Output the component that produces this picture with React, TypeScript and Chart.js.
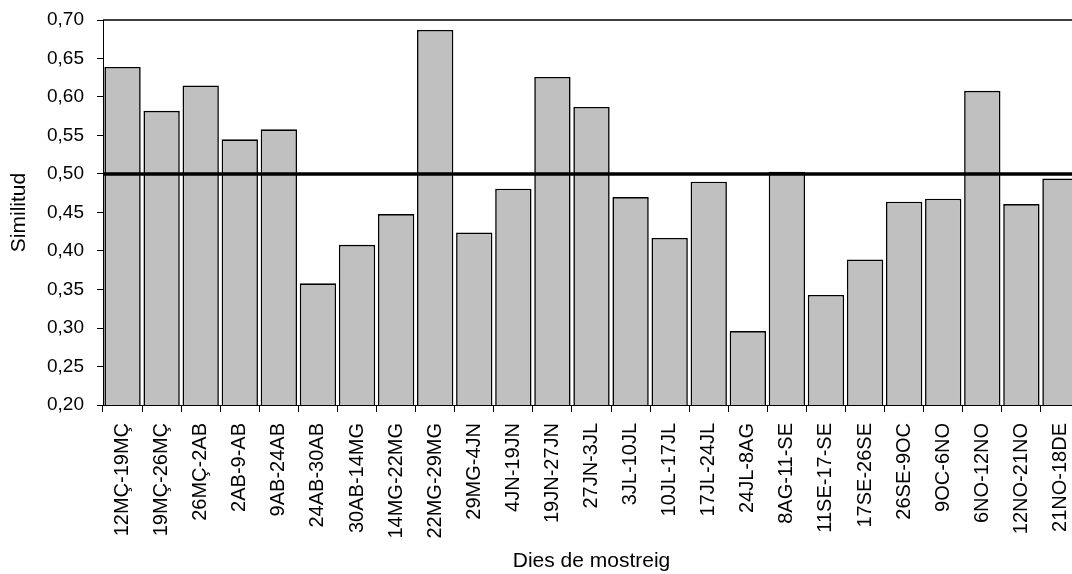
import React, { useEffect, useRef } from "react";
import { Chart, registerables } from "chart.js";

Chart.register(...registerables);

const categories: string[] = [
  "12MÇ-19MÇ", "19MÇ-26MÇ", "26MÇ-2AB", "2AB-9-AB", "9AB-24AB", "24AB-30AB",
  "30AB-14MG", "14MG-22MG", "22MG-29MG", "29MG-4JN", "4JN-19JN", "19JN-27JN",
  "27JN-3JL", "3JL-10JL", "10JL-17JL", "17JL-24JL", "24JL-8AG", "8AG-11-SE",
  "11SE-17-SE", "17SE-26SE", "26SE-9OC", "9OC-6NO", "6NO-12NO", "12NO-21NO",
  "21NO-18DE",
];

const similitud: number[] = [
  0.639, 0.582, 0.615, 0.545, 0.558, 0.358, 0.408, 0.448, 0.687, 0.424,
  0.481, 0.626, 0.587, 0.470, 0.417, 0.490, 0.296, 0.503, 0.343, 0.389,
  0.464, 0.468, 0.608, 0.461, 0.494,
];

const yMin = 0.2;
const yMax = 0.7;
const yStep = 0.05;
const thresholdValue = 0.5;

const yTitle = "Similitud";
const xTitle = "Dies de mostreig";

const FONT = "'Liberation Sans', Arial, sans-serif";

export default function App() {
  const canvasRef = useRef<HTMLCanvasElement | null>(null);

  useEffect(() => {
    const canvas = canvasRef.current;
    if (!canvas) return;

    const linesPlugin = {
      id: "refLines",
      afterDatasetsDraw(chart: any) {
        const { ctx, chartArea, scales } = chart;
        const y = scales.y;
        ctx.save();
        ctx.strokeStyle = "#000";
        const yTop = y.getPixelForValue(yMax);
        ctx.lineWidth = 1.5;
        ctx.beginPath();
        ctx.moveTo(chartArea.left, yTop);
        ctx.lineTo(chartArea.right, yTop);
        ctx.stroke();
        const yT = y.getPixelForValue(thresholdValue);
        ctx.lineWidth = 3.5;
        ctx.beginPath();
        ctx.moveTo(chartArea.left, yT);
        ctx.lineTo(chartArea.right, yT);
        ctx.stroke();
        ctx.restore();
      },
    };

    const chart = new Chart(canvas, {
      type: "bar",
      data: {
        labels: categories,
        datasets: [
          {
            data: similitud,
            backgroundColor: "#c0c0c0",
            borderColor: "#000",
            borderWidth: 1.6,
            barPercentage: 0.93,
            categoryPercentage: 1,
          },
        ],
      },
      options: {
        responsive: false,
        animation: false,
        devicePixelRatio: 1,
        layout: { padding: { top: 20, right: 2, bottom: 0, left: 0 } },
        plugins: {
          legend: { display: false },
          tooltip: { enabled: false },
        },
        scales: {
          x: {
            grid: {
              offset: true,
              drawOnChartArea: false,
              drawTicks: true,
              tickLength: 7,
              color: "#000",
              lineWidth: 1,
            },
            border: { display: true, color: "#000", width: 1 },
            ticks: {
              autoSkip: false,
              minRotation: 90,
              maxRotation: 90,
              padding: 11,
              color: "#000",
              font: { family: FONT, size: 20 },
            },
            title: {
              display: true,
              text: xTitle,
              color: "#000",
              font: { family: FONT, size: 21 },
              padding: { top: 0, bottom: 0 },
            },
            afterFit(scale: any) {
              scale.height = 169;
              scale.paddingLeft = 0;
              scale.paddingRight = 0;
            },
          },
          y: {
            min: yMin,
            max: yMax,
            grid: {
              drawOnChartArea: false,
              drawTicks: true,
              tickLength: 6,
              color: "#000",
              lineWidth: 1,
            },
            border: { display: true, color: "#000", width: 1 },
            ticks: {
              stepSize: yStep,
              padding: 13,
              color: "#000",
              font: { family: FONT, size: 19 },
              callback: (v: any) => Number(v).toFixed(2).replace(".", ","),
            },
            title: {
              display: true,
              text: yTitle,
              color: "#000",
              font: { family: FONT, size: 21 },
              padding: { top: 7, bottom: 0 },
            },
            afterFit(scale: any) {
              scale.width = 103;
              scale.paddingTop = 0;
              scale.paddingBottom = 0;
            },
          },
        },
      },
      plugins: [linesPlugin],
    });

    return () => {
      chart.destroy();
    };
  }, []);

  return (
    <div
      style={{
        position: "fixed",
        left: 0,
        top: 0,
        width: 1072,
        height: 574,
        overflow: "hidden",
        background: "#fff",
      }}
    >
      <canvas
        ref={canvasRef}
        width={1082}
        height={574}
        style={{ display: "block", width: 1082, height: 574 }}
      />
    </div>
  );
}
